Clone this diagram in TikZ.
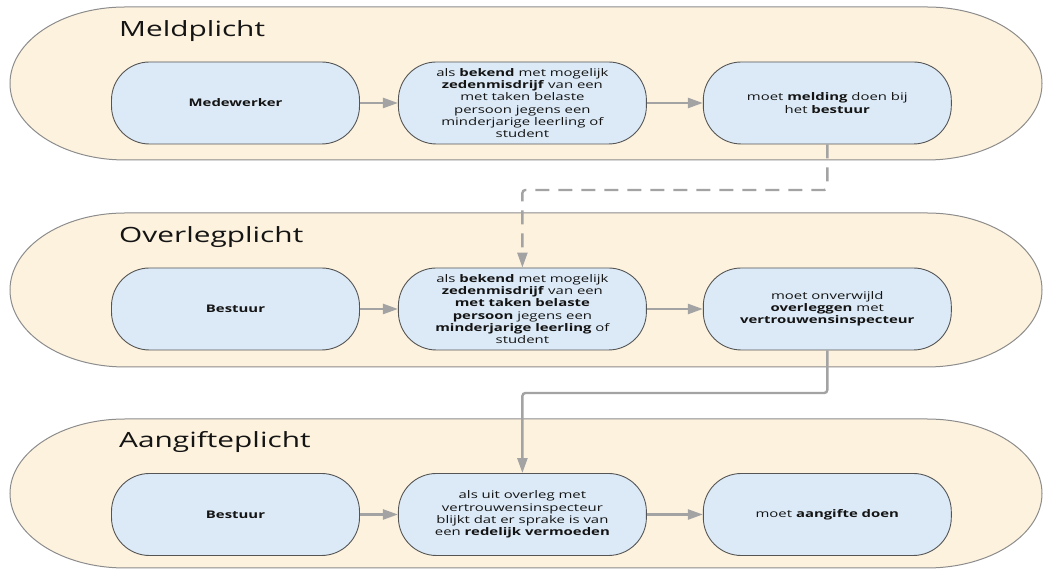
\documentclass[tikz,border=0pt]{standalone}
\usepackage{fontspec}
\setmainfont{Open Sans}[FakeStretch=1.42]
\usepackage{tikz}
\usetikzlibrary{arrows.meta,positioning}
\usepackage{xcolor}

\definecolor{bandfill}{HTML}{FDF2DE}
\definecolor{bandline}{HTML}{8C8C8C}
\definecolor{boxfill}{HTML}{DCEAF7}
\definecolor{boxline}{HTML}{555555}
\definecolor{flowgray}{HTML}{A3A3A3}
\definecolor{inkgray}{HTML}{141414}

\begin{document}
\begin{tikzpicture}[x=1pt,y=1pt,
    band/.style={fill=bandfill,draw=bandline,line width=1pt},
    bandtitle/.style={anchor=base west,inner sep=0pt,text=inkgray,
      font=\fontsize{21}{24}\selectfont},
    stepbox/.style={draw=boxline,fill=boxfill,line width=0.9pt,
      rounded corners=38pt,minimum width=248pt,minimum height=82pt,
      align=center,text=inkgray,font=\fontsize{10.5}{12.2}\selectfont},
    flow/.style={draw=flowgray,line width=2.4pt,rounded corners=3pt,
      -{Triangle[length=15pt,width=10pt]}}]
    \useasboundingbox (0,0) rectangle (1045,569);

    % the three bands
    \foreach \i/\ytop/\ybot/\ytitle/\title in
      {1/562/409/532/Meldplicht,2/356/202/326/Overlegplicht,3/150/1/121/Aangifteplicht}{
      \pgfmathsetmacro{\ry}{(\ytop-\ybot)/2}
      \draw[band] (125,\ytop) -- (927,\ytop)
        arc[start angle=90,end angle=-90,x radius=115,y radius=\ry]
        -- (125,\ybot)
        arc[start angle=270,end angle=90,x radius=115,y radius=\ry] -- cycle;
      \node[bandtitle] (t\i) at (119,\ytitle) {\title};
    }

    % Meldplicht
    \node[stepbox] (a1) at (235.5,466) {\textbf{Medewerker}};
    \node[stepbox,right=38pt of a1] (b1) {als \textbf{bekend} met mogelijk\\
      \textbf{zedenmisdrijf} van een\\ met taken belaste\\ persoon jegens een\\
      minderjarige leerling of\\ student};
    \node[stepbox,right=56pt of b1] (c1) {moet \textbf{melding} doen bij\\
      het \textbf{bestuur}};

    % Overlegplicht
    \node[stepbox] (a2) at (235.5,260) {\textbf{Bestuur}};
    \node[stepbox,right=38pt of a2] (b2) {als \textbf{bekend} met mogelijk\\
      \textbf{zedenmisdrijf} van een\\ \textbf{met taken belaste}\\
      \textbf{persoon} jegens een\\ \textbf{minderjarige leerling} of\\ student};
    \node[stepbox,right=56pt of b2] (c2) {moet onverwijld\\
      \textbf{overleggen} met\\ \textbf{vertrouwensinspecteur}};

    % Aangifteplicht
    \node[stepbox] (a3) at (235.5,54.5) {\textbf{Bestuur}};
    \node[stepbox,right=38pt of a3] (b3) {als uit overleg met\\
      vertrouwensinspecteur\\ blijkt dat er sprake is van\\
      een \textbf{redelijk vermoeden}};
    \node[stepbox,right=56pt of b3] (c3) {moet \textbf{aangifte doen}};

    % arrows within the bands
    \foreach \i in {1,2,3}{
      \draw[flow] (a\i) -- (b\i);
      \draw[flow] (b\i) -- (c\i);
    }

    % arrows between the bands
    \coordinate (d1) at (c1.south |- 0,379);
    \coordinate (d2) at (c2.south |- 0,176);
    \draw[flow,dash pattern=on 14pt off 9pt] (c1.south) -- (d1) -| (b2.north);
    \draw[flow] (c2.south) -- (d2) -| (b3.north);
\end{tikzpicture}
\end{document}
